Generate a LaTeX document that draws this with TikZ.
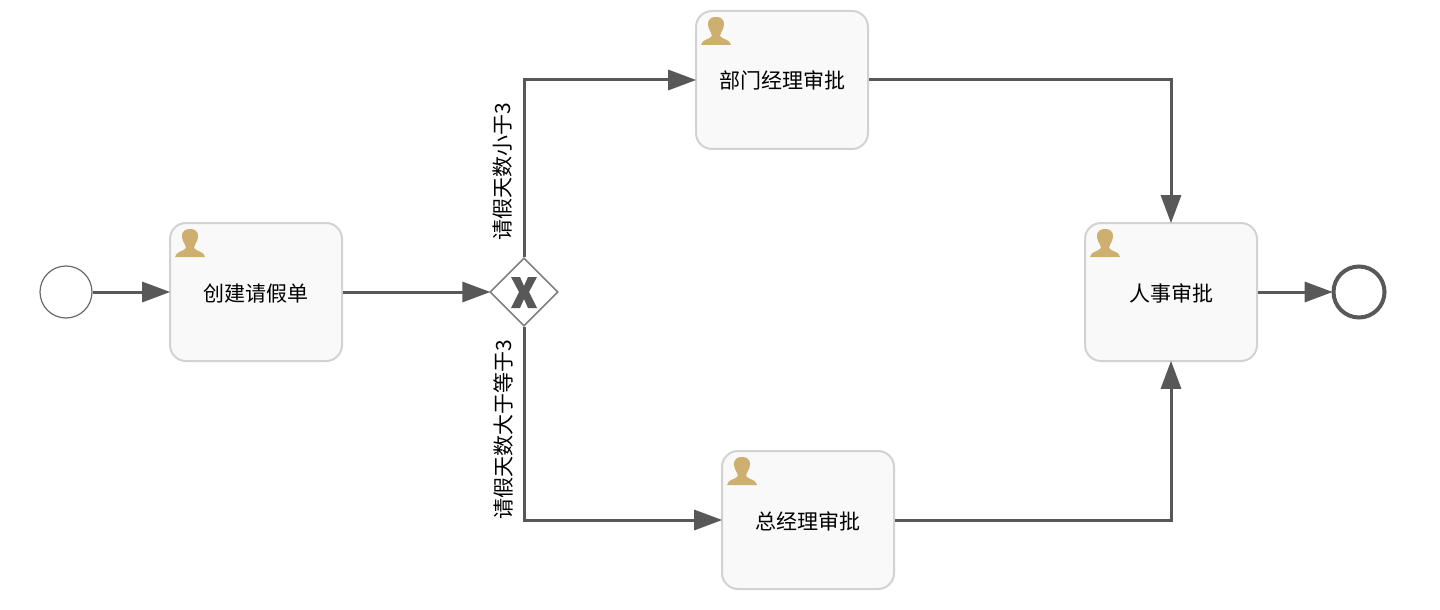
\documentclass[tikz,border=0pt]{standalone}
\usepackage{fontspec}
\setmainfont{Noto Sans CJK SC}
\usetikzlibrary{arrows.meta,positioning,shapes.geometric}
\definecolor{flowgray}{HTML}{585858}
\definecolor{taskfill}{HTML}{F9F9F9}
\definecolor{taskline}{HTML}{D2D2D2}
\definecolor{icontan}{HTML}{CDB06F}
\begin{document}
\begin{tikzpicture}[
    x=0.5pt, y=-0.5pt,
    font=\fontsize{10.5pt}{12pt}\selectfont,
    task/.style={draw=taskline, line width=1pt, rounded corners=8pt, fill=taskfill,
                 minimum width=86pt, minimum height=69pt, align=center, inner sep=0pt,
                 text height=10.5pt, text depth=1.5pt},
    startevent/.style={circle, draw=flowgray!90, line width=0.6pt, fill=white,
                       minimum size=26pt, inner sep=0pt},
    endevent/.style={circle, draw=flowgray, line width=2pt, fill=white,
                     minimum size=25.5pt, inner sep=0pt},
    gateway/.style={diamond, aspect=1, draw=black!50, line width=0.8pt, fill=white,
                    minimum size=34pt, inner sep=0pt},
    flow/.style={-{Triangle[length=14pt, width=10pt]}, line width=1.5pt, flowgray,
                 shorten >=-0.6pt},
    guard/.style={rotate=90, inner sep=0pt},
    usericon/.pic={
        \fill[icontan] (21,7) .. controls (12,7) and (12,14) .. (14,19)
            .. controls (15,22) and (17,23) .. (17,26)
            .. controls (14,30) and (7,29) .. (6,35) -- (36,35)
            .. controls (35,29) and (28,30) .. (25,26)
            .. controls (25,23) and (27,22) .. (28,19)
            .. controls (30,14) and (30,7) .. (21,7) -- cycle;
    }
]
\useasboundingbox (0,0) rectangle (1440,610);

\node[startevent] (start) at (66,292) {};
\node[task] (create) at (256,292) {创建请假单};
\node[gateway] (choice) at (524,292) {};
\node[task] (dept) at (782,80) {部门经理审批};
\node[task] (boss) at (808,520) {总经理审批};
\node[task] (hr) at (1171,292) {人事审批};
\node[endevent] (stop) at (1359,292) {};

\foreach \t in {create,dept,boss,hr}
    \pic at (\t.north west) {usericon};

% gateway mark
\fill[flowgray, shift={(choice.center)}] (-13,-15) -- (-4,-15) -- (0,-6) -- (4,-15)
    -- (13,-15) -- (5,0) -- (13,16) -- (4,16) -- (0,7) -- (-4,16) -- (-13,16) -- (-5,0) -- cycle;

\draw[flow] (start) -- (create);
\draw[flow] (create) -- (choice);
\draw[flow] (choice.north) |- (dept.west);
\draw[flow] (choice.south) |- (boss.west);
\draw[flow] (dept.east) -| (hr.north);
\draw[flow] (boss.east) -| (hr.south);
\draw[flow] (hr) -- (stop);

\node[guard] (less) at (503,172) {请假天数小于3};
\node[guard] (more) at (503,430) {请假天数大于等于3};
\end{tikzpicture}
\end{document}
